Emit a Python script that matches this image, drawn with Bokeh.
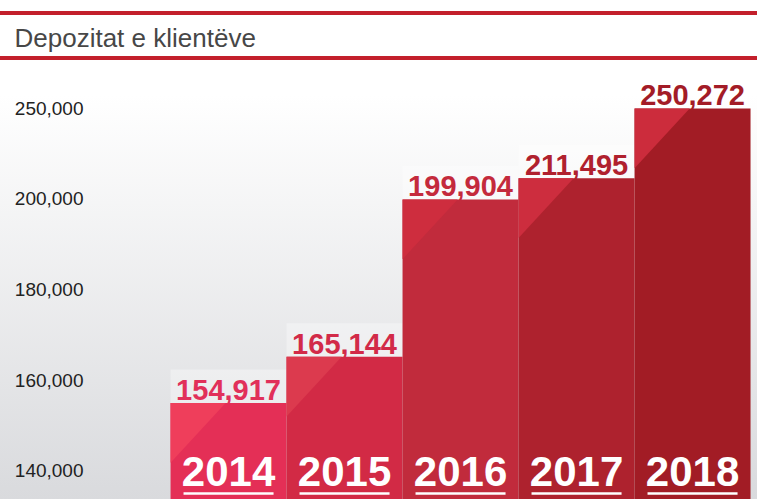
import numpy as np
from bokeh.plotting import figure
from bokeh.models import FixedTicker, Range1d
from bokeh.core.properties import value
from bokeh.embed import file_html
from bokeh.resources import INLINE

# ---- data ----
years = [2014, 2015, 2016, 2017, 2018]
deposits = [154917, 165144, 199904, 211495, 250272]
tick_values = [140000, 160000, 180000, 200000, 250000]
tick_labels = ["140,000", "160,000", "180,000", "200,000", "250,000"]
value_labels = [f"{v:,}" for v in deposits]
year_labels = [str(y) for y in years]

# ---- styles ----
bar_colors = ["#e42f56", "#d22a45", "#c12b3c", "#ae222e", "#a21c25"]
tri_colors = ["#ef3e5b", "#dc3a4e", "#ce2d3e", "#cd2d3e", "#cc2c3c"]
label_colors = ["#e1305a", "#d22a48", "#c42a3c", "#b0212e", "#a31c27"]
FONT = "Liberation Sans"

# the source chart spaces its axis ticks evenly: map values onto tick index
tick_idx = np.arange(len(tick_values))
ypos = np.interp(deposits, tick_values, tick_idx)

W, H = 757, 499
p = figure(width=W, height=H, output_backend="svg", toolbar_location=None,
           x_range=Range1d(2012.879, 2018.56), y_range=Range1d(-0.32, 4.53),
           min_border_left=98, min_border_right=0, min_border_top=60,
           min_border_bottom=0)

p.background_fill_alpha = 0
p.border_fill_alpha = 0
p.outline_line_color = None
p.grid.visible = False
p.xaxis.visible = False
p.styles = {
    "background": (
        "linear-gradient(#c3202b,#c3202b) 0px 11px / 100% 4px no-repeat, "
        "linear-gradient(#c3202b,#c3202b) 0px 56px / 100% 4px no-repeat, "
        "linear-gradient(to bottom, #ffffff 0px, #ffffff 95px, #d9dadd 499px)"
    )
}

# title
p.title.text = "Depozitat e klientëve"
p.title.text_font = FONT
p.title.text_font_size = "26px"
p.title.text_font_style = "normal"
p.title.text_color = "#474747"
p.title.align = "left"
p.title.offset = -84
p.title.standoff = 15

# y axis
ax = p.yaxis[0]
ax.ticker = FixedTicker(ticks=list(tick_idx))
ax.major_label_overrides = {int(i): lab for i, lab in zip(tick_idx, tick_labels)}
ax.axis_line_color = None
ax.major_tick_line_color = None
ax.minor_tick_line_color = None
ax.major_tick_out = 0
ax.major_tick_in = 0
ax.major_label_standoff = 15
ax.major_label_text_font = FONT
ax.major_label_text_font_size = "19px"
ax.major_label_text_color = "#222222"

# light label boxes above the bars
BOX_H = 0.37
p.vbar(x=years, top=ypos + BOX_H, bottom=ypos, width=1.0,
       fill_color="white", fill_alpha=0.35, line_color=None)

# bars
p.vbar(x=years, top=ypos, bottom=-1, width=1.0, fill_color=bar_colors,
       line_color=None)

# light corner triangles
TRI_W, TRI_H = 0.475, 0.66
xs = [[x - 0.5, x - 0.5 + TRI_W, x - 0.5] for x in years]
ys = [[t, t, t - TRI_H] for t in ypos]
p.patches(xs, ys, fill_color=tri_colors, line_color=None)

# value labels
p.text(x=years, y=ypos, text=value_labels, text_color=label_colors,
       text_font=value(FONT), text_font_size="29px", text_font_style="bold",
       text_align="center", text_baseline="bottom", y_offset=-3)

# year labels with underline
YEAR_Y = -0.166
p.text(x=years, y=[YEAR_Y] * len(years), text=year_labels, text_color="white",
       text_font=value(FONT), text_font_size="42px", text_font_style="bold",
       text_align="center", text_baseline="bottom")
UL_Y, UL_HALF = -0.254, 0.388
p.segment(x0=[x - UL_HALF for x in years], x1=[x + UL_HALF for x in years],
          y0=[UL_Y] * len(years), y1=[UL_Y] * len(years),
          line_color="white", line_width=2.5)

open("out.html", "w").write(file_html(p, INLINE))
